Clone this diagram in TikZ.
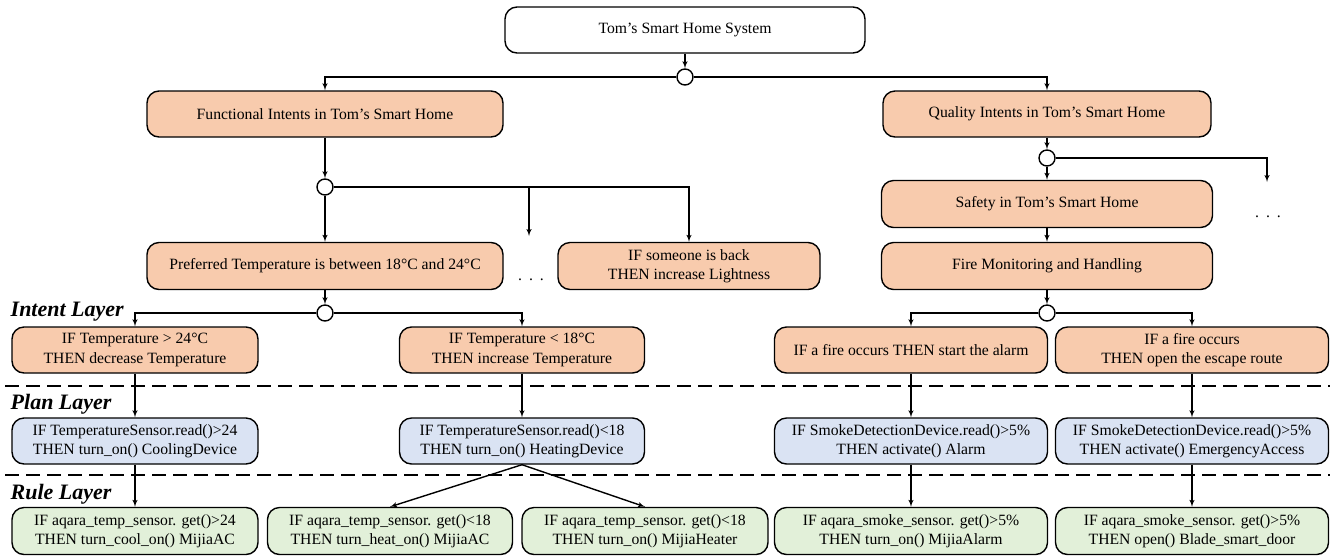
\documentclass[tikz,border=0pt]{standalone}
\usepackage{fontspec}
\setmainfont{Liberation Serif}
\usetikzlibrary{arrows}
\definecolor{intentfill}{HTML}{F8CBAD}
\definecolor{planfill}{HTML}{DAE3F3}
\definecolor{rulefill}{HTML}{E2F0D9}
\tikzstyle{every picture}=[x=1pt, y=-1pt, >=latex', line width=1.4pt]
\tikzstyle{box}=[draw, rounded corners=12pt, align=center, inner sep=0pt,%
	minimum height=46pt, font=\fontsize{15.7}{19.5}\selectfont]
\tikzstyle{intent}=[box, fill=intentfill]
\tikzstyle{plan}=[box, fill=planfill]
\tikzstyle{rule}=[box, fill=rulefill]
\tikzstyle{junction}=[draw, fill=white, circle, inner sep=0pt, minimum size=16pt]
\tikzstyle{layer}=[anchor=base west, inner sep=0pt, font=\fontsize{22}{26}\selectfont\bfseries\itshape]
\tikzstyle{more}=[anchor=base, inner sep=0pt, font=\fontsize{15.7}{19.5}\selectfont]
\tikzstyle{separator}=[line width=1.8pt, dash pattern=on 14pt off 7pt]
\newcommand{\moredots}{.\hspace{7pt}.\hspace{7pt}.}

\begin{document}
\begin{tikzpicture}
	\useasboundingbox (0,0) rectangle (1335,558);
	\node[box, minimum width=360pt] (sys) at (685,30) {Tom's Smart Home System};
	\node[junction] (o1) at (685,77) {};
	\node[intent, minimum width=356pt] (func) at (325,114) {Functional Intents in Tom's Smart Home};
	\node[intent, minimum width=328pt] (qual) at (1047,114) {Quality Intents in Tom's Smart Home};
	\node[junction] (o2) at (325,187) {};
	\node[intent, minimum width=356pt, minimum height=47pt] (pref) at (325,266) {Preferred Temperature is between 18°C and 24°C};
	\coordinate (d1) at (529,236);
	\node[more] (dots1) at (531,280) {\moredots};
	\node[intent, minimum width=262pt, minimum height=47pt] (light) at (689,266) {IF someone is back\\THEN increase Lightness};
	\node[junction] (o3) at (1047,158) {};
	\node[intent, minimum width=331pt, minimum height=47pt] (safety) at (1047,204) {Safety in Tom's Smart Home};
	\coordinate (d2) at (1267,182);
	\node[more] (dots2) at (1268,217) {\moredots};
	\node[intent, minimum width=331pt, minimum height=47pt] (fire) at (1047,266) {Fire Monitoring and Handling};
	\node[junction] (o4) at (325,313) {};
	\node[junction] (o5) at (1047,313) {};

	\node[layer] (lint) at (10,316) {Intent Layer};
	\node[intent, minimum width=246pt] (i1) at (135,350) {IF Temperature > 24°C\\THEN decrease Temperature};
	\node[intent, minimum width=245pt] (i2) at (522,350) {IF Temperature < 18°C\\THEN increase Temperature};
	\node[intent, minimum width=273pt] (i3) at (911,350) {IF a fire occurs THEN start the alarm};
	\node[intent, minimum width=273pt] (i4) at (1192,350) {IF a fire occurs\\THEN open the escape route};
	\draw[separator] (5,386) -- (1330,386);

	\node[layer] (lplan) at (10,409) {Plan Layer};
	\node[plan, minimum width=246pt] (p1) at (135,441) {IF TemperatureSensor.read()>24\\THEN turn\_on() CoolingDevice};
	\node[plan, minimum width=245pt] (p2) at (522,441) {IF TemperatureSensor.read()<18\\THEN turn\_on() HeatingDevice};
	\node[plan, minimum width=273pt] (p3) at (911,441) {IF SmokeDetectionDevice.read()>5\%\\THEN activate() Alarm};
	\node[plan, minimum width=273pt] (p4) at (1192,441) {IF SmokeDetectionDevice.read()>5\%\\THEN activate() EmergencyAccess};
	\draw[separator] (5,475) -- (1330,475);

	\node[layer] (lrule) at (10,499) {Rule Layer};
	\node[rule, minimum width=246pt, minimum height=47pt] (r1) at (135,531) {IF aqara\_temp\_sensor. get()>24\\THEN turn\_cool\_on() MijiaAC};
	\node[rule, minimum width=245pt, minimum height=47pt] (r2) at (390,531) {IF aqara\_temp\_sensor. get()<18\\THEN turn\_heat\_on() MijiaAC};
	\node[rule, minimum width=246pt, minimum height=47pt] (r3) at (645,531) {IF aqara\_temp\_sensor. get()<18\\THEN turn\_on() MijiaHeater};
	\node[rule, minimum width=273pt, minimum height=47pt] (r4) at (911,531) {IF aqara\_smoke\_sensor. get()>5\%\\THEN turn\_on() MijiaAlarm};
	\node[rule, minimum width=273pt, minimum height=47pt] (r5) at (1192,531) {IF aqara\_smoke\_sensor. get()>5\%\\THEN open() Blade\_smart\_door};

	\draw[->] (sys) -- (o1);
	\draw[->] (o1) -| (func);
	\draw[->] (o1) -| (qual);
	\draw[->] (func) -- (o2);
	\draw[->] (o2) -- (pref);
	\draw[->] (o2) -| (light);
	\draw[->] (o2 -| d1) -- (d1);
	\draw[->] (qual) -- (o3);
	\draw[->] (o3) -- (safety);
	\draw[->] (o3) -| (d2);
	\draw[->] (safety) -- (fire);
	\draw[->] (pref) -- (o4);
	\draw[->] (o4) -| (i1);
	\draw[->] (o4) -| (i2);
	\draw[->] (fire) -- (o5);
	\draw[->] (o5) -| (i3);
	\draw[->] (o5) -| (i4);
	\draw[->] (i1) -- (p1);
	\draw[->] (i2) -- (p2);
	\draw[->] (i3) -- (p3);
	\draw[->] (i4) -- (p4);
	\draw[->] (p1) -- (r1);
	\draw[->] (p2.south) -- (r2.north);
	\draw[->] (p2.south) -- (r3.north);
	\draw[->] (p3) -- (r4);
	\draw[->] (p4) -- (r5);
\end{tikzpicture}
\end{document}
